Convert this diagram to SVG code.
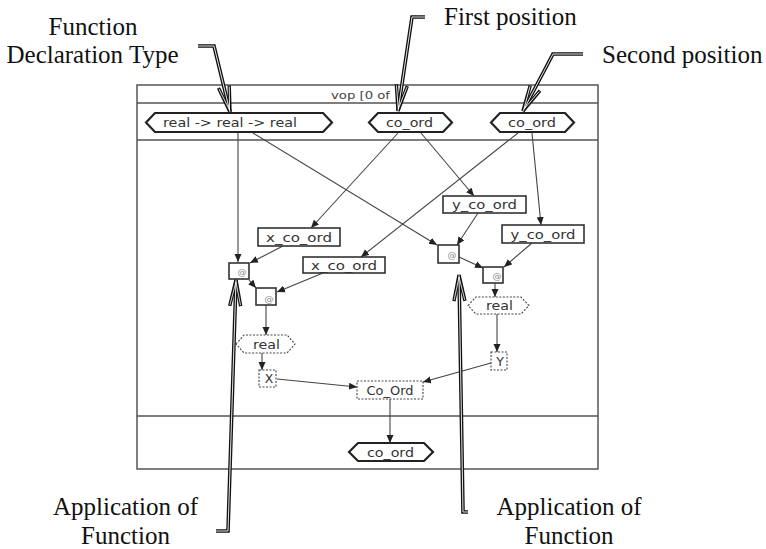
<svg xmlns="http://www.w3.org/2000/svg" width="766" height="549" viewBox="0 0 766 549">
<style>
.frame{fill:none;stroke:#555;stroke-width:1.5}
.hex{fill:#fff;stroke:#222;stroke-width:2.2}
.box{fill:#fff;stroke:#333;stroke-width:1.6}
.dash{fill:#fff;stroke:#444;stroke-width:1.1;stroke-dasharray:2 1.5}
.t{font-family:"DejaVu Sans",sans-serif;font-size:12.5px;fill:#333;text-anchor:middle}
.at{font-family:"DejaVu Sans",sans-serif;font-size:9px;fill:#888;text-anchor:middle}
.title{font-family:"DejaVu Sans",sans-serif;font-size:11px;fill:#444}
.conn{fill:none;stroke:#444;stroke-width:1.1;marker-end:url(#ah)}
.co{fill:none;stroke:#111;stroke-width:3.6;stroke-linejoin:miter;marker-end:url(#cah)}
.ci{fill:none;stroke:#fff;stroke-width:0.9;marker-end:url(#cahi)}
.lbl{font-family:"Liberation Serif","Times New Roman",serif;font-size:25px;fill:#111}
</style>
<defs>
<marker id="ah" markerUnits="userSpaceOnUse" markerWidth="9" markerHeight="8" viewBox="0 0 9 8" refX="8" refY="4" orient="auto">
<path d="M0,0.5 L8,4 L0,7.5 Z" fill="#222"/>
</marker>
<marker id="cah" markerUnits="userSpaceOnUse" markerWidth="40" markerHeight="20" viewBox="-32 -10 40 20" refX="0" refY="0" orient="auto">
<path d="M-26,-5.5 L0,0 L-26,5.5" fill="none" stroke="#111" stroke-width="3.4"/>
</marker>
<marker id="cahi" markerUnits="userSpaceOnUse" markerWidth="40" markerHeight="20" viewBox="-32 -10 40 20" refX="0" refY="0" orient="auto">
<path d="M-25,-5.3 L-2,0 L-25,5.3" fill="none" stroke="#fff" stroke-width="0.8"/>
</marker>
</defs>
<rect width="766" height="549" fill="#fff"/>

<g id="frame">
<rect class="frame" x="137" y="85" width="461" height="384"/>
<line class="frame" x1="137" y1="103" x2="598" y2="103"/>
<line class="frame" x1="137" y1="140" x2="598" y2="140"/>
<line class="frame" x1="137" y1="416" x2="598" y2="416"/>
<text class="title" x="331" y="99" textLength="59" lengthAdjust="spacingAndGlyphs">vop [0 of</text>
</g>

<g id="connectors">
<path class="conn" d="M238,133 L238,262"/>
<path class="conn" d="M253,133 L437,245"/>
<path class="conn" d="M398,133 L311,228"/>
<path class="conn" d="M421,133 L474,196"/>
<path class="conn" d="M518,133 L361,257"/>
<path class="conn" d="M532,133 L541,225"/>
<path class="conn" d="M283,246 L250,263"/>
<path class="conn" d="M249,280 L256,288"/>
<path class="conn" d="M323,273 L277,292"/>
<path class="conn" d="M266,305 L266,335"/>
<path class="conn" d="M262,353 L262,370"/>
<path class="conn" d="M277,379 L357,387"/>
<path class="conn" d="M491,363 L423,382"/>
<path class="conn" d="M478,213 L457,245"/>
<path class="conn" d="M459,257 L483,268"/>
<path class="conn" d="M532,243 L504,267"/>
<path class="conn" d="M495,283 L495,297"/>
<path class="conn" d="M497,314 L497,352"/>
<path class="conn" d="M390,399 L390,443"/>
</g>

<g id="n-fun-type">
<path class="hex" d="M146,122.5 L155,113 L323,113 L332,122.5 L323,132 L155,132 Z"/>
<text class="t" x="230" y="127" textLength="134" lengthAdjust="spacingAndGlyphs">real -&gt; real -&gt; real</text>
</g>
<g id="n-co-ord-1">
<path class="hex" d="M369,122.5 L378,113 L443,113 L452,122.5 L443,132 L378,132 Z"/>
<text class="t" x="409.5" y="127" textLength="47" lengthAdjust="spacingAndGlyphs">co_ord</text>
</g>
<g id="n-co-ord-2">
<path class="hex" d="M491,122.5 L500,113 L565,113 L574,122.5 L565,132 L500,132 Z"/>
<text class="t" x="532" y="127" textLength="48" lengthAdjust="spacingAndGlyphs">co_ord</text>
</g>
<g id="n-x-co-ord-1">
<rect class="box" x="258" y="228" width="82" height="18"/>
<text class="t" x="299" y="241.5" textLength="66" lengthAdjust="spacingAndGlyphs">x_co_ord</text>
</g>
<g id="n-x-co-ord-2">
<rect class="box" x="303" y="257" width="82" height="16"/>
<text class="t" x="344" y="269.5" textLength="66" lengthAdjust="spacingAndGlyphs">x_co_ord</text>
</g>
<g id="n-y-co-ord-1">
<rect class="box" x="443" y="196" width="83" height="17"/>
<text class="t" x="484.5" y="209" textLength="65" lengthAdjust="spacingAndGlyphs">y_co_ord</text>
</g>
<g id="n-y-co-ord-2">
<rect class="box" x="502" y="225" width="82" height="18"/>
<text class="t" x="543" y="238.5" textLength="65" lengthAdjust="spacingAndGlyphs">y_co_ord</text>
</g>
<g id="n-app-1">
<rect class="box" x="229" y="263" width="20" height="16"/>
<text class="at" x="242" y="275">@</text>
</g>
<g id="n-app-2">
<rect class="box" x="256" y="288" width="20" height="17"/>
<text class="at" x="269" y="302">@</text>
</g>
<g id="n-app-3">
<rect class="box" x="438" y="245" width="21" height="18"/>
<text class="at" x="452" y="258">@</text>
</g>
<g id="n-app-4">
<rect class="box" x="483" y="267" width="20" height="16"/>
<text class="at" x="497" y="279">@</text>
</g>
<g id="n-real-1">
<path class="dash" d="M236,344 L244,335 L287,335 L295,344 L287,353 L244,353 Z"/>
<text class="t" x="266.5" y="348.5" textLength="27" lengthAdjust="spacingAndGlyphs">real</text>
</g>
<g id="n-real-2">
<path class="dash" d="M468,305.5 L476,297 L521,297 L529,305.5 L521,314 L476,314 Z"/>
<text class="t" x="499.5" y="310" textLength="27" lengthAdjust="spacingAndGlyphs">real</text>
</g>
<g id="n-x">
<rect class="dash" x="259" y="370" width="17" height="17"/>
<text class="t" x="269" y="383">X</text>
</g>
<g id="n-y">
<rect class="dash" x="491" y="352" width="16" height="18"/>
<text class="t" x="500" y="365.5">Y</text>
</g>
<g id="n-co-ord-ctor">
<rect class="dash" x="357" y="381" width="66" height="18"/>
<text class="t" x="390" y="394.5" textLength="47" lengthAdjust="spacingAndGlyphs">Co_Ord</text>
</g>
<g id="n-co-ord-out">
<path class="hex" d="M349,452 L358,443 L424,443 L433,452 L424,461 L358,461 Z"/>
<text class="t" x="390.5" y="456.5" textLength="47" lengthAdjust="spacingAndGlyphs">co_ord</text>
</g>

<g id="callouts">
<path class="co" d="M198,46 L214,46 L230,112"/>
<path class="ci" d="M198,46 L214,46 L230,112"/>
<path class="co" d="M425,17 L412,17 L398,111"/>
<path class="ci" d="M425,17 L412,17 L398,111"/>
<path class="co" d="M583,54 L553,54 L523,111"/>
<path class="ci" d="M583,54 L553,54 L523,111"/>
<path class="co" d="M216,531 L228,531 L236,280"/>
<path class="ci" d="M216,531 L228,531 L236,280"/>
<path class="co" d="M468,512 L463,512 L459,275"/>
<path class="ci" d="M468,512 L463,512 L459,275"/>
<text class="lbl" x="93" y="35" text-anchor="middle">Function</text>
<text class="lbl" x="92.5" y="63" text-anchor="middle">Declaration Type</text>
<text class="lbl" x="444" y="25">First position</text>
<text class="lbl" x="602" y="63">Second position</text>
<text class="lbl" x="125.5" y="515" text-anchor="middle">Application of</text>
<text class="lbl" x="125.5" y="544" text-anchor="middle">Function</text>
<text class="lbl" x="569" y="515" text-anchor="middle">Application of</text>
<text class="lbl" x="569" y="544" text-anchor="middle">Function</text>
</g>
</svg>
